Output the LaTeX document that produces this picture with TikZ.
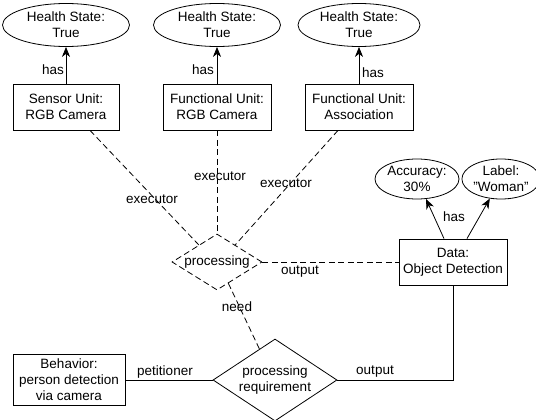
\documentclass[tikz,border=0pt]{standalone}
\usepackage{fontspec}
\setmainfont{Liberation Sans}
\usetikzlibrary{shapes.geometric,arrows.meta,calc}
\begin{document}
\begin{tikzpicture}[x=1pt,y=-1pt,
  every node/.style={font=\fontsize{13.5}{16}\selectfont, align=center, inner sep=0pt},
  ell/.style={draw, ellipse, line width=0.8pt},
  box/.style={draw, rectangle, line width=0.8pt},
  dia/.style={draw, diamond, line width=0.8pt},
  conn/.style={line width=0.8pt},
  dconn/.style={line width=0.8pt, dash pattern=on 6pt off 3.5pt},
  arr/.style={line width=0.8pt, -{Stealth[length=10pt,width=8pt,inset=3pt]}},
  lbl/.style={font=\fontsize{13.5}{16}\selectfont}
]
\useasboundingbox (0,0) rectangle (536,420);

% health state ellipses
\node[ell, minimum width=127pt, minimum height=43pt] (hs1) at (66,25) {Health State:\\True};
\node[ell, minimum width=127pt, minimum height=43pt] (hs2) at (217,25) {Health State:\\True};
\node[ell, minimum width=122pt, minimum height=43pt] (hs3) at (359,25) {Health State:\\True};

% unit boxes
\node[box, minimum width=106pt, minimum height=46pt] (su) at (66,107) {Sensor Unit:\\RGB Camera};
\node[box, minimum width=108pt, minimum height=46pt] (fu1) at (217,107) {Functional Unit:\\RGB Camera};
\node[box, minimum width=108pt, minimum height=46pt] (fu2) at (359,107) {Functional Unit:\\Association};

% data
\node[box, minimum width=108pt, minimum height=46pt] (data) at (453,262) {Data:\\Object Detection};
\node[ell, minimum width=84pt, minimum height=40pt] (acc) at (417,179) {Accuracy:\\30\%};
\node[ell, minimum width=64pt, minimum height=40pt] (lab) at (501,179) {Label:\\"Woman"};

% diamonds
\node[dia, dashed, dash pattern=on 6pt off 3.5pt, minimum width=90pt, minimum height=56pt, aspect=1.6] (proc) at (217,262) {processing};
\node[dia, minimum width=124pt, minimum height=82pt, aspect=1.5] (preq) at (275,380) {processing\\requirement};

% behavior
\node[box, minimum width=112pt, minimum height=51pt] (beh) at (69,380) {Behavior:\\person detection\\via camera};

% has arrows
\draw[arr] (su) -- (hs1);
\draw[arr] (fu1) -- (hs2);
\draw[arr] (fu2) -- (hs3);
\draw[arr] ([xshift=-9pt]data.north) -- (acc);
\draw[arr] ([xshift=14pt]data.north) -- (lab);
\node[lbl, anchor=east] (h1) at (64,70) {has};
\node[lbl, anchor=east] (h2) at (214,70) {has};
\node[lbl, anchor=west] (h3) at (362,73) {has};
\node[lbl] (h4) at (454,217) {has};

% executor lines
\draw[dconn] ([xshift=24pt]su.south) -- ($(proc.north)!0.4!(proc.west)$);
\draw[dconn] (fu1.south) -- (proc.north);
\draw[dconn] ([xshift=-21pt]fu2.south) -- ($(proc.north)!0.4!(proc.east)$);
\node[lbl] (e1) at (152,199) {executor};
\node[lbl] (e2) at (220,176) {executor};
\node[lbl] (e3) at (286,183) {executor};

% output dashed
\draw[dconn] (proc.east) -- (data.west);
\node[lbl] (o1) at (300,272) {output};

% need
\draw[dconn] ($(proc.south)!0.25!(proc.east)$) -- ($(preq.west)!0.75!(preq.north)$);
\node[lbl] (n1) at (237,307) {need};

% petitioner
\draw[conn] (beh.east) -- (preq.west);
\node[lbl] (p1) at (165,372) {petitioner};

% output solid
\draw[conn] (preq.east) -| (data.south);
\node[lbl] (o2) at (375,372) {output};
\end{tikzpicture}
\end{document}
